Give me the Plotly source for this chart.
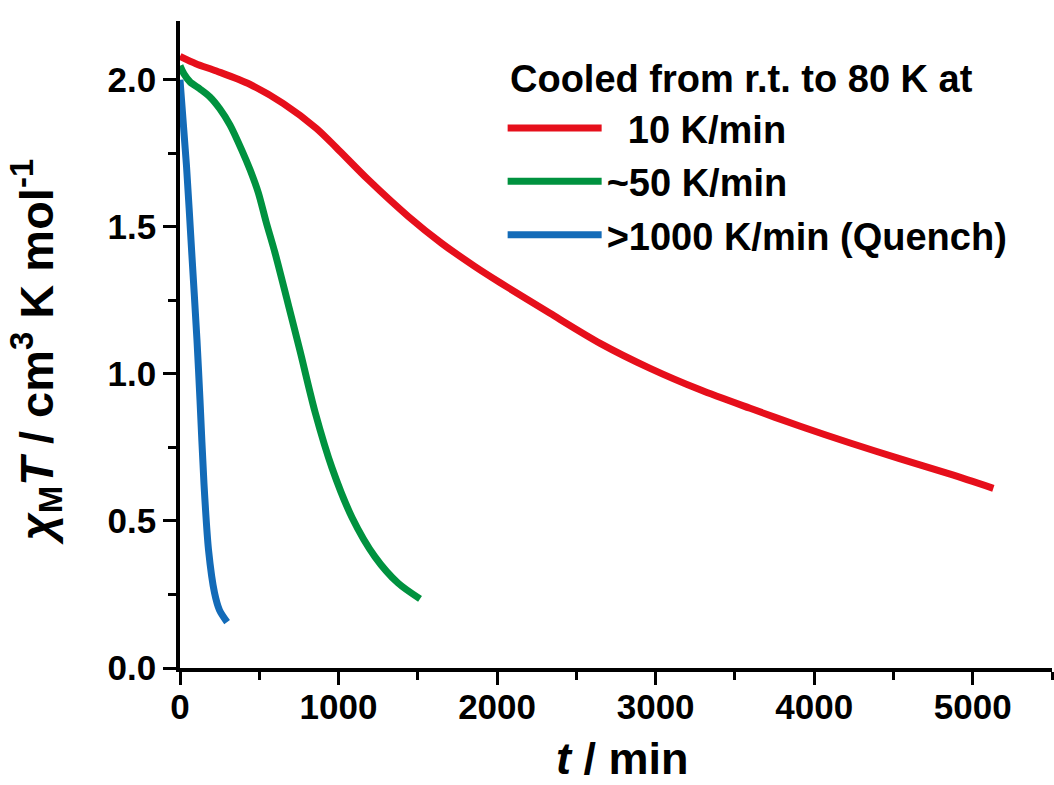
import plotly.graph_objects as go

# Time (min) and chi_M*T (cm^3 K mol^-1) after cooling at three rates
t_10 = [0, 100, 230, 440, 650, 860, 985, 1188, 1441, 1651, 1861, 2020, 2334,
        2650, 2965, 3281, 3596, 3912, 4227, 4543, 4858, 5130]
chiT_10 = [2.08, 2.055, 2.03, 1.985, 1.92, 1.835, 1.77, 1.66, 1.535, 1.444,
           1.365, 1.31, 1.206, 1.104, 1.019, 0.946, 0.883, 0.822, 0.765, 0.711,
           0.659, 0.611]

t_50 = [0, 25, 63, 126, 189, 252, 315, 389, 442, 494, 543, 599, 681, 757,
        852, 959, 1085, 1230, 1375, 1514]
chiT_50 = [2.048, 2.020, 1.993, 1.969, 1.942, 1.901, 1.847, 1.762, 1.694,
           1.616, 1.517, 1.412, 1.240, 1.078, 0.870, 0.680, 0.512,
           0.378, 0.289, 0.235]

t_q = [0, 41, 73, 107, 126, 151, 180, 218, 249, 297]
chiT_q = [2.0, 1.707, 1.422, 1.116, 0.912, 0.629, 0.401, 0.255, 0.197, 0.156]

series = [
    ("\u00a0\u00a010 K/min", t_10, chiT_10, "#E60F1B"),
    ("~50 K/min", t_50, chiT_50, "#00923F"),
    (">1000 K/min (Quench)", t_q, chiT_q, "#136BB8"),
]

legend_heading = "Cooled from r.t. to 80 K at"

FONT = "Arial, Liberation Sans, sans-serif"

fig = go.Figure()
for i, (name, t, y, color) in enumerate(series):
    fig.add_trace(go.Scatter(
        x=t, y=y, name=name, mode="lines", legendgroup=f"g{i}",
        line=dict(color=color, width=7, shape="spline", smoothing=0.8),
    ))

axis_common = dict(
    showline=True, linecolor="black", linewidth=3.5,
    ticks="outside", ticklen=13, tickwidth=3, tickcolor="black",
    showgrid=False, zeroline=False, mirror=False,
    tickfont=dict(family=FONT, size=35, color="black", weight="bold"),
)

fig.update_xaxes(
    range=[0, 5500], tickvals=[0, 1000, 2000, 3000, 4000, 5000],
    minor=dict(dtick=500, tick0=0, ticks="outside", ticklen=8, tickwidth=3,
               tickcolor="black"),
    ticklabelstandoff=-8,
    **axis_common,
)
fig.update_yaxes(
    range=[0, 2.2], tickvals=[0, 0.5, 1.0, 1.5, 2.0], tickformat=".1f",
    minor=dict(dtick=0.25, tick0=0, ticks="outside", ticklen=8, tickwidth=3,
               tickcolor="black"),
    ticklabelstandoff=0,
    **axis_common,
)

fig.add_annotation(
    text="<b><i>t</i> / min</b>", xref="paper", yref="paper",
    x=0.508, y=-0.14, yanchor="middle", showarrow=False,
    font=dict(family=FONT, size=45, color="black"),
)
fig.add_annotation(
    text="<b><i>χ</i><sub>M</sub><i>T</i> / cm<sup>3</sup> K mol<sup>-1</sup></b>",
    xref="paper", yref="paper", x=-0.165, y=0.488, textangle=-90,
    xanchor="center", yanchor="middle", showarrow=False,
    font=dict(family=FONT, size=47, color="black"),
)
fig.add_annotation(
    text=f"<b>{legend_heading}</b>", xref="paper", yref="paper",
    x=0.376, y=0.910, xanchor="left", yanchor="middle", showarrow=False,
    font=dict(family=FONT, size=38, color="black"),
)

fig.update_layout(
    width=1054, height=785,
    margin=dict(l=180, r=2, t=21, b=117),
    paper_bgcolor="white", plot_bgcolor="white",
    showlegend=True,
    legend=dict(
        font=dict(family=FONT, size=38, color="black", weight="bold"),
        x=0.37, y=0.883, xanchor="left", yanchor="top",
        bgcolor="rgba(0,0,0,0)", itemwidth=94, tracegroupgap=1,
    ),
)

fig.write_html("out.html")
